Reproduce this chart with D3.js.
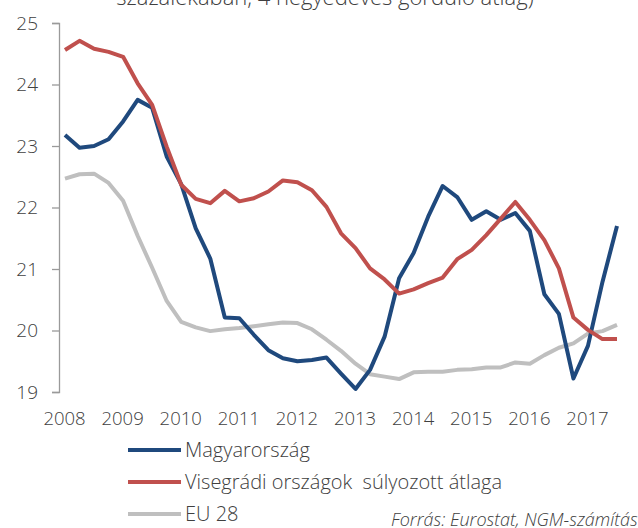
<!DOCTYPE html>
<html>
<head>
<meta charset="utf-8">
<script src="https://cdn.jsdelivr.net/npm/d3@7"></script>
<style>
  html, body { margin: 0; padding: 0; background: #fff; }
  svg { display: block; }
  text { font-family: "Open Sans", "Noto Sans", sans-serif; fill: #404040; }
</style>
</head>
<body>
<svg id="chart" width="638" height="528"></svg>
<script>
// Quarterly data, 2008 Q1 – 2017 Q3 (4-quarter rolling average)
const startYear = 2008;
const magyarorszag = [
  23.18, 22.97, 23.00, 23.11, 23.40, 23.75, 23.62, 22.83,
  22.38, 21.66, 21.17, 20.21, 20.20, 19.93, 19.68, 19.55,
  19.50, 19.52, 19.56, 19.30, 19.05, 19.36, 19.90, 20.85,
  21.26, 21.85, 22.35, 22.17, 21.80, 21.94, 21.80, 21.91,
  21.62, 20.59, 20.27, 19.22, 19.75, 20.79, 21.70
];
const visegradi = [
  24.56, 24.71, 24.58, 24.53, 24.45, 24.02, 23.67, 22.99,
  22.37, 22.14, 22.07, 22.27, 22.10, 22.15, 22.26, 22.44,
  22.41, 22.28, 22.01, 21.58, 21.34, 21.01, 20.83, 20.60,
  20.67, 20.77, 20.86, 21.16, 21.31, 21.55, 21.82, 22.09,
  21.80, 21.47, 21.01, 20.21, 20.01, 19.86, 19.86
];
const eu28 = [
  22.47, 22.54, 22.55, 22.40, 22.11, 21.54, 21.02, 20.48,
  20.14, 20.05, 19.99, 20.02, 20.04, 20.07, 20.10, 20.13,
  20.12, 20.02, 19.85, 19.67, 19.46, 19.29, 19.25, 19.21,
  19.32, 19.33, 19.33, 19.36, 19.37, 19.40, 19.40, 19.48,
  19.46, 19.60, 19.72, 19.79, 19.95, 19.99, 20.09
];
const yearTicks = [2008, 2009, 2010, 2011, 2012, 2013, 2014, 2015, 2016, 2017];
const yTicks = [19, 20, 21, 22, 23, 24, 25];
const seriesNames = ["Magyarország", "Visegrádi országok  súlyozott átlaga", "EU 28"];
const titleText = "százalékában, 4 negyedéves gördülő átlag)";
const sourceText = "Forrás: Eurostat, NGM-számítás";

const colors = ["#1F497D", "#C0504D", "#BFBFBF"];
const seriesList = [magyarorszag, visegradi, eu28];

const svg = d3.select("#chart");

const x = d3.scaleLinear().domain([2008, 2017.5]).range([65, 617]);
const y = d3.scaleLinear().domain([19, 25]).range([392, 23]);

// Title (partially cut off at top, as in the reference)
svg.append("text")
  .attr("x", 325).attr("y", 5)
  .attr("text-anchor", "middle")
  .style("font-size", "22px")
  .style("font-weight", 300)
  .text(titleText);

// Y axis
const yAxis = d3.axisLeft(y).tickValues(yTicks).tickSize(7).tickPadding(14).tickFormat(d3.format("d"));
const gy = svg.append("g").attr("transform", "translate(59,0)").call(yAxis);
gy.select(".domain").attr("stroke", "#9a9a9a").attr("stroke-width", 1.3);
gy.selectAll(".tick line").attr("stroke", "#9a9a9a").attr("stroke-width", 1.3);
gy.selectAll(".tick text")
  .style("font-size", "19px").style("font-weight", 300)
  .attr("fill", "#404040").attr("font-family", null);

// X axis labels (no axis line)
const xAxis = d3.axisBottom(x).tickValues(yearTicks).tickSize(0).tickPadding(0).tickFormat(d3.format("d"));
const gx = svg.append("g").attr("transform", "translate(-1,412)").call(xAxis);
gx.select(".domain").remove();
gx.selectAll(".tick text")
  .style("font-size", "18.5px").style("font-weight", 300)
  .attr("fill", "#404040").attr("font-family", null);

// Lines
const line = d3.line()
  .x((d, i) => x(startYear + i / 4))
  .y(d => y(d));

[2, 0, 1].forEach(k => {
  svg.append("path")
    .datum(seriesList[k])
    .attr("fill", "none")
    .attr("stroke", colors[k])
    .attr("stroke-width", 4)
    .attr("stroke-linejoin", "round")
    .attr("d", line);
});

// Legend
const legend = svg.append("g");
seriesNames.forEach((name, k) => {
  const ly = 450 + k * 32;
  legend.append("line")
    .attr("x1", 128).attr("x2", 181)
    .attr("y1", ly).attr("y2", ly)
    .attr("stroke", colors[k]).attr("stroke-width", 4);
  legend.append("text")
    .attr("x", 185).attr("y", ly + 7)
    .style("font-size", "20px").style("font-weight", 300)
    .style("white-space", "pre")
    .text(name);
});

// Source (cut at the right edge, as in the reference)
svg.append("text")
  .attr("x", 391).attr("y", 526)
  .style("font-size", "18px").style("font-style", "italic").style("font-weight", 300)
  .text(sourceText);
</script>
</body>
</html>
